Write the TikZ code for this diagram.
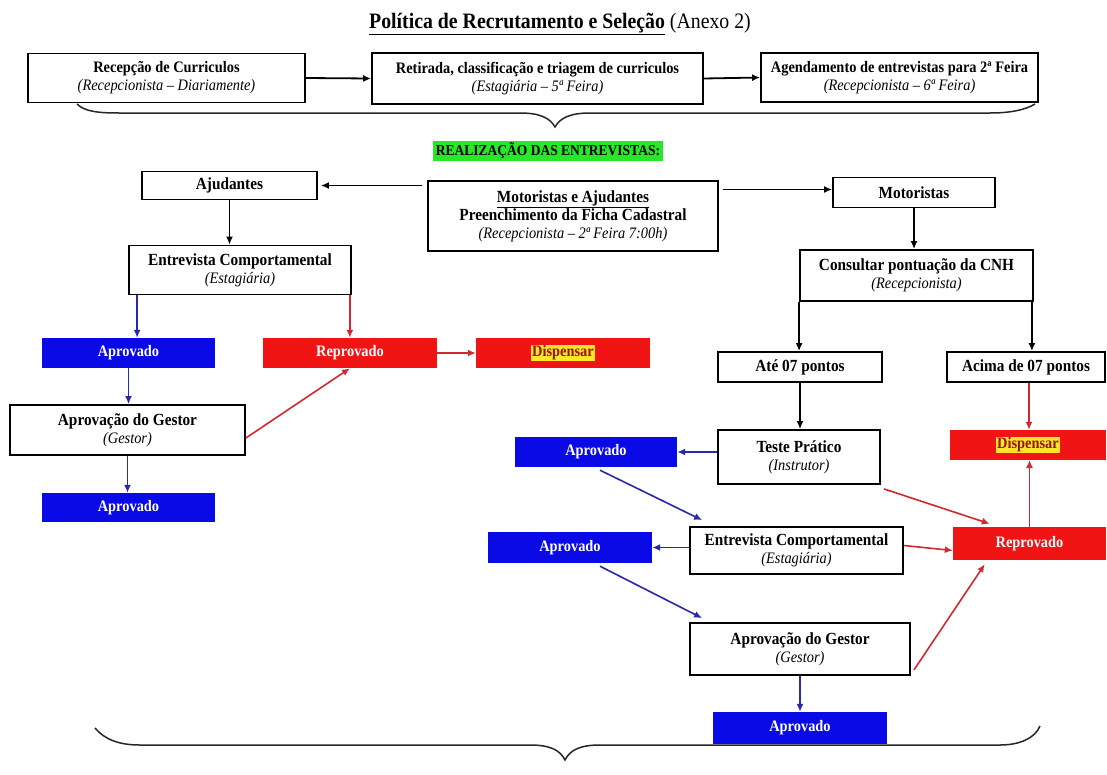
\documentclass[tikz,border=0pt]{standalone}
\usepackage{fontspec}
\setmainfont{Liberation Serif}[FakeStretch=0.9]
\usetikzlibrary{arrows.meta,calc}
\definecolor{bfill}{RGB}{10,10,230}
\definecolor{rfill}{RGB}{240,20,20}
\definecolor{barrowc}{RGB}{40,40,170}
\definecolor{rarrowc}{RGB}{210,40,50}
\definecolor{hgreen}{RGB}{40,230,40}
\definecolor{dtext}{RGB}{150,20,20}
\definecolor{hyellow}{RGB}{255,230,40}
\newcommand\subline[1]{{\mdseries\itshape\fontsize{16}{17}\selectfont #1}}
\newcommand\hlyellow[1]{{\setlength{\fboxsep}{1pt}\colorbox{hyellow}{\textcolor{dtext}{#1}}}}
\begin{document}
\begin{tikzpicture}[x=1pt,y=-1pt,
  box/.style={draw, line width=1.8pt, fill=white, align=center,
    font=\fontsize{17}{18}\selectfont\bfseries, inner sep=1pt},
  topbox/.style={box, font=\fontsize{16}{18}\selectfont\bfseries},
  bluebox/.style={fill=bfill, text=white, align=center,
    font=\fontsize{16}{17}\selectfont\bfseries, inner sep=1pt},
  redbox/.style={fill=rfill, text=white, align=center,
    font=\fontsize{16}{17}\selectfont\bfseries, inner sep=1pt},
  karr/.style={-{Latex[length=8pt,width=7pt]}, line width=1.8pt, black},
  barr/.style={-{Latex[length=8pt,width=7pt]}, line width=1.6pt, barrowc},
  rarr/.style={-{Latex[length=8pt,width=7pt]}, line width=1.6pt, rarrowc},
  bracestyle/.style={line width=1.5pt, black!85}
]
\useasboundingbox (0,0) rectangle (1107,774);
\fill[white] (0,0) rectangle (1107,774);

% title
\node[font=\fontsize{22}{24}\selectfont] (title) at (560,24)
  {\textbf{\underline{Política de Recrutamento e Seleção}} (Anexo 2)};

% top row
\node[topbox, minimum width=277, minimum height=49] (b1) at (166.5,78)
  {Recepção de Curriculos\\\subline{(Recepcionista – Diariamente)}};
\node[topbox, minimum width=331, minimum height=51] (b2) at (537.5,78.5)
  {Retirada, classificação e triagem de curriculos\\\subline{(Estagiária – 5ª Feira)}};
\node[topbox, minimum width=277, minimum height=49] (b3) at (899.5,77.5)
  {Agendamento de entrevistas para 2ª Feira\\\subline{(Recepcionista – 6ª Feira)}};
\draw[karr] (b1.east) -- (b2.west);
\draw[karr] (b2.east) -- (b3.west);

% top brace
\draw[bracestyle] (77,104) .. controls (85,112) and (100,113) .. (120,113) -- (520,113)
  .. controls (540,113) and (550,118) .. (555,127)
  .. controls (560,118) and (570,113) .. (590,113) -- (990,113)
  .. controls (1010,113) and (1025,110) .. (1035,104);

\node[fill=hgreen, font=\fontsize{15}{16}\selectfont\bfseries, inner sep=2.5pt] (green) at (548,151)
  {REALIZAÇÃO DAS ENTREVISTAS:};

% middle
\node[box, minimum width=175, minimum height=28] (aj) at (229.5,185.5) {Ajudantes};
\node[box, minimum width=290, minimum height=70] (ma) at (573,216)
  {\underline{Motoristas e Ajudantes}\\Preenchimento da Ficha Cadastral\\\subline{(Recepcionista – 2ª Feira 7:00h)}};
\node[box, minimum width=162, minimum height=30] (mo) at (914,192.5) {Motoristas};
\draw[karr] ($(ma.west |- aj.east)+(-5,0)$) -- ($(aj.east)+(3,0)$);
\draw[karr] ($(ma.east |- mo.west)+(4,-3)$) -- ($(mo.west)+(0,-3)$);

% left column
\node[box, minimum width=222, minimum height=49] (ec) at (240,270)
  {Entrevista Comportamental\\\subline{(Estagiária)}};
\draw[karr] (aj.south) -- (aj.south |- ec.north);
\node[bluebox, minimum width=173, minimum height=30] (apL1) at (128.5,353) {Aprovado};
\node[redbox, minimum width=174, minimum height=30] (repL) at (350,353) {Reprovado};
\node[redbox, minimum width=174, minimum height=30] (disL) at (563,353) {\hlyellow{Dispensar}};
\draw[barr] ($(ec.south west)+(9,0)$) -- ($(ec.south west |- apL1.north)+(9,0)$);
\draw[rarr] ($(ec.south east)+(-2,0)$) -- ($(ec.south east |- repL.north)+(-2,0)$);
\draw[rarr] (repL.east) -- (disL.west);
\node[box, minimum width=235, minimum height=50] (agL) at (127.5,430)
  {Aprovação do Gestor\\\subline{(Gestor)}};
\draw[barr] (apL1.south) -- (apL1.south |- agL.north);
\draw[rarr] ($(agL.east)+(0,8)$) -- (repL.south);
\node[bluebox, minimum width=173, minimum height=29] (apL2) at (128.5,507.5) {Aprovado};
\draw[barr] (agL.south) -- (agL.south |- apL2.north);

% right column
\node[box, minimum width=233, minimum height=51] (cnh) at (916.5,275.5)
  {Consultar pontuação da CNH\\\subline{(Recepcionista)}};
\draw[karr] (mo.south) -- (mo.south |- cnh.north);
\node[box, minimum width=164, minimum height=30] (ate) at (800,367) {Até 07 pontos};
\node[box, minimum width=158, minimum height=30] (aci) at (1026,367) {Acima de 07 pontos};
\draw[karr] (cnh.south west) -- (cnh.south west |- ate.north);
\draw[karr] ($(cnh.south east)+(-2,0)$) -- ($(cnh.south east |- aci.north)+(-2,0)$);
\node[box, minimum width=162, minimum height=54] (tp) at (799,457)
  {Teste Prático\\\subline{(Instrutor)}};
\draw[karr] (ate.south) -- (ate.south |- tp.north);
\node[bluebox, minimum width=162, minimum height=30] (apR1) at (596,452) {Aprovado};
\draw[barr] (tp.west |- apR1.east) -- (apR1.east);
\node[redbox, minimum width=156, minimum height=30] (disR) at (1028,445) {\hlyellow{Dispensar}};
\draw[rarr] ($(aci.south)+(3,0)$) -- ($(aci.south |- disR.north)+(3,0)$);
\node[box, minimum width=213, minimum height=47] (ecR) at (796.5,550.5)
  {Entrevista Comportamental\\\subline{(Estagiária)}};
\node[redbox, minimum width=153, minimum height=33] (repR) at (1029.5,543.5) {Reprovado};
\node[bluebox, minimum width=164, minimum height=31] (apR2) at (570,547.5) {Aprovado};
\draw[rarr] ($(tp.south east)+(3,4)$) -- ($(repR.north west)+(37,-3)$);
\draw[barr] ($(apR1.south)+(4,3)$) -- ($(ecR.north west)+(13,-6)$);
\draw[barr] (ecR.west |- apR2.east) -- (apR2.east);
\draw[rarr] ($(ecR.east)+(0,-5)$) -- (ecR.east -| repR.west);
\draw[rarr, line width=0.9pt] (repR.north) -- (repR.north |- disR.south);
\node[box, minimum width=220, minimum height=52] (agR) at (800,649)
  {Aprovação do Gestor\\\subline{(Gestor)}};
\draw[barr] ($(apR2.south)+(30,3)$) -- ($(agR.north west)+(13,-4)$);
\draw[rarr] ($(agR.east)+(3,21)$) -- ($(repR.south west)+(32,4)$);
\node[bluebox, minimum width=174, minimum height=32] (apR3) at (800,728) {Aprovado};
\draw[barr] (agR.south) -- (agR.south |- apR3.north);

% bottom brace
\draw[bracestyle] (95,728) .. controls (105,740) and (120,745) .. (140,745) -- (530,745)
  .. controls (550,745) and (560,750) .. (565,760)
  .. controls (570,750) and (580,745) .. (600,745) -- (1000,745)
  .. controls (1020,745) and (1035,738) .. (1040,726);
\end{tikzpicture}
\end{document}
